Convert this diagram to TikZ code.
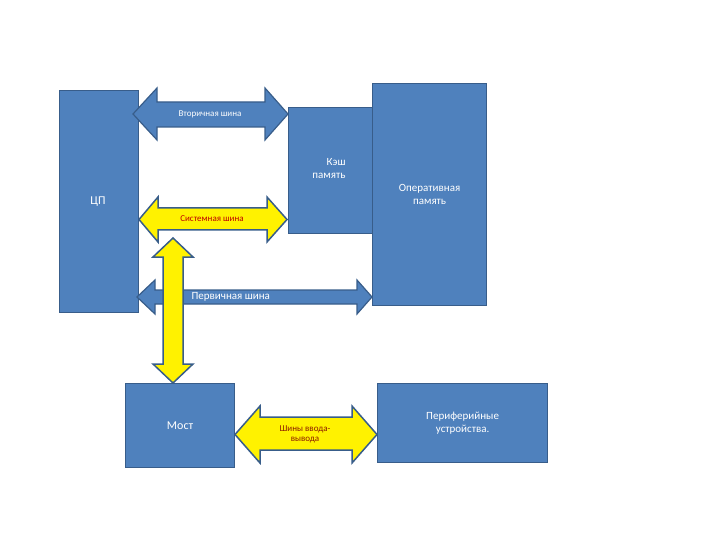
\documentclass[tikz,border=0pt]{standalone}
\usepackage{fontspec}
\setmainfont{Carlito}
\definecolor{bfill}{HTML}{4F81BD}
\definecolor{bline}{HTML}{385D8A}
\definecolor{ytxt}{HTML}{8B1A00}
\begin{document}
\begin{tikzpicture}[x=1pt,y=-1pt,
  box/.style={draw=bline,line width=1.2pt,fill=bfill,text=white,align=center,inner sep=0pt},
  barrow/.style={draw=bline,line width=1.2pt,fill=bfill},
  yarrow/.style={draw=bline,line width=1.5pt,fill=yellow},
  wlab/.style={text=white,font=\fontsize{9}{10}\selectfont},
  ylab/.style={text=ytxt,align=center,font=\fontsize{9}{10}\selectfont}]
\useasboundingbox (0,0) rectangle (720,540);
% horizontal double arrow: #1 xL,#2 xLb,#3 xRb,#4 xR,#5 ht,#6 st,#7 sb,#8 hb
\def\harr#1#2#3#4#5#6#7#8{(#1,{(#5+#8)/2}) -- (#2,#5) -- (#2,#6) -- (#3,#6) -- (#3,#5) -- (#4,{(#5+#8)/2}) -- (#3,#8) -- (#3,#7) -- (#2,#7) -- (#2,#8) -- cycle}
\node[box,minimum width=79,minimum height=222,anchor=north west] (cpu) at (59,90) {};
\node[text=white,font=\fontsize{12}{14}\selectfont] (cpul) at (98,202) {ЦП};
\node[box,minimum width=84,minimum height=126,anchor=north west] (cache) at (288,107) {};
\node[text=white,align=right,font=\fontsize{11}{13}\selectfont] (cachel) at (329,169) {Кэш\\память};
\node[box,minimum width=114,minimum height=222,anchor=north west,font=\fontsize{11}{13}\selectfont] (ram) at (372,83) {Оперативная\\память};
\node[box,minimum width=109,minimum height=84,anchor=north west,font=\fontsize{12}{14}\selectfont] (bridge) at (125,383) {Мост};
\node[box,minimum width=170,minimum height=79,anchor=north west,font=\fontsize{11}{13}\selectfont] (per) at (377,383) {Периферийные\\устройства.};
% secondary bus
\draw[barrow] \harr{133}{157}{265}{288}{88}{102}{127}{140};
\node[wlab] (sec) at (210,114) {Вторичная шина};
% system bus
\draw[yarrow] \harr{139}{158}{267}{287}{197}{208}{230}{242};
\node[text=red!75!black,font=\fontsize{9}{10}\selectfont] (sys) at (212,219) {Системная шина};
% primary bus
\draw[barrow] \harr{137}{155}{357}{372}{280}{290}{304}{314};
% vertical yellow
\draw[yarrow] (173,238) -- (193,257) -- (183,257) -- (183,364) -- (193,364) -- (173,383) -- (153,364) -- (163,364) -- (163,257) -- (153,257) -- cycle;
\node[text=white,font=\fontsize{11}{13}\selectfont,anchor=west] (pri) at (188,297) {Первичная шина};
% io bus
\draw[yarrow] \harr{235}{260}{352}{377}{406}{417}{450}{463};
\node[ylab,font=\fontsize{9}{10}\selectfont] (io) at (305,434) {Шины ввода-\\вывода};
\end{tikzpicture}
\end{document}
